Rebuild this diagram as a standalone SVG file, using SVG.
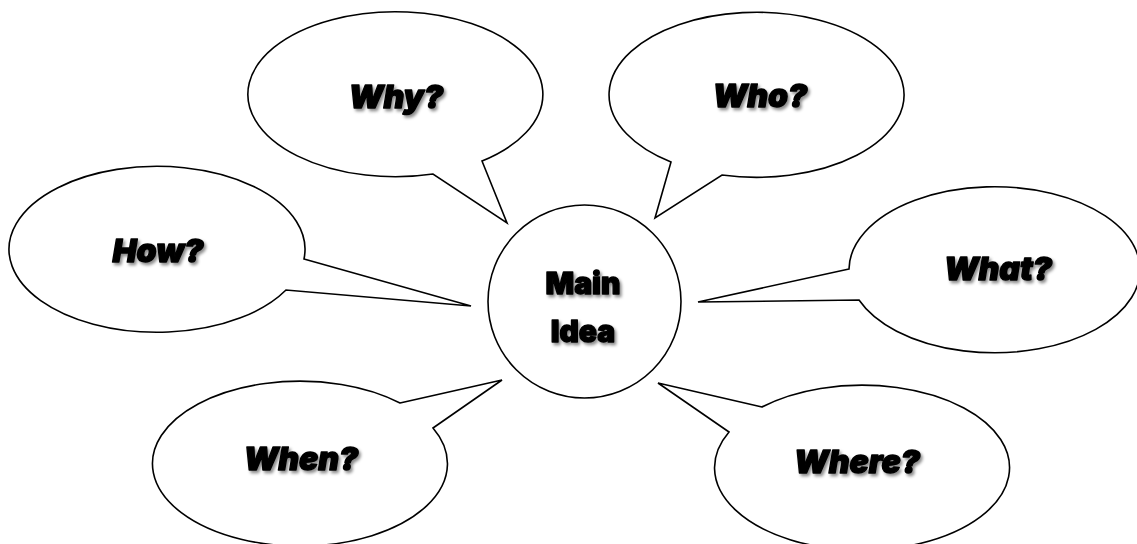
<svg xmlns="http://www.w3.org/2000/svg" width="1137" height="544" viewBox="0 0 1137 544">
<defs>
<filter id="sh" x="-20%" y="-30%" width="140%" height="160%">
<feDropShadow dx="2" dy="2.5" stdDeviation="1.6" flood-color="#000" flood-opacity="0.45"/>
</filter>
<style>
.b{fill:#fff;stroke:#000;stroke-width:1.6;stroke-linejoin:miter}
.q{font-family:"Inter","Liberation Sans",sans-serif;font-weight:900;font-style:italic;font-size:32px;fill:#000;stroke:#000;stroke-width:1.4;stroke-linejoin:round;text-anchor:middle;filter:url(#sh)}
.m{font-family:"Inter","Liberation Sans",sans-serif;font-weight:900;font-size:30px;fill:#000;stroke:#000;stroke-width:1.3;stroke-linejoin:round;text-anchor:middle;filter:url(#sh)}
</style>
</defs>
<rect width="1137" height="544" fill="#fff"/>
<g id="connectors"></g>
<g id="why">
<path class="b" d="M482,161 L507,223 L433,174 A147.5,82.5 0 1 1 482,161 Z"/>
<text class="q" x="396" y="108">Why?</text>
</g>
<g id="who">
<path class="b" d="M671,162 L655,218 L722,175 A147.5,82.5 0 1 0 671,162 Z"/>
<text class="q" x="760" y="107">Who?</text>
</g>
<g id="how">
<path class="b" d="M304,259 L471,306 L286,290 A148,83 0 1 1 304,259 Z"/>
<text class="q" x="158" y="262">How?</text>
</g>
<g id="what">
<path class="b" d="M849,269 L698,302 L859,300 A145.5,83 0 1 0 849,269 Z"/>
<text class="q" x="998" y="280">What?</text>
</g>
<g id="when">
<path class="b" d="M400,403 L502,380 L433,428 A147.5,82.5 0 1 1 400,403 Z"/>
<text class="q" x="301" y="470">When?</text>
</g>
<g id="where">
<path class="b" d="M762,407 L658,383 L729,432 A147.5,82.5 0 1 0 762,407 Z"/>
<text class="q" x="857" y="473">Where?</text>
</g>
<g id="main">
<circle class="b" cx="584.5" cy="301.5" r="96.5"/>
<text class="m" x="583" y="294">Main</text>
<text class="m" x="583" y="342">Idea</text>
</g>
</svg>
